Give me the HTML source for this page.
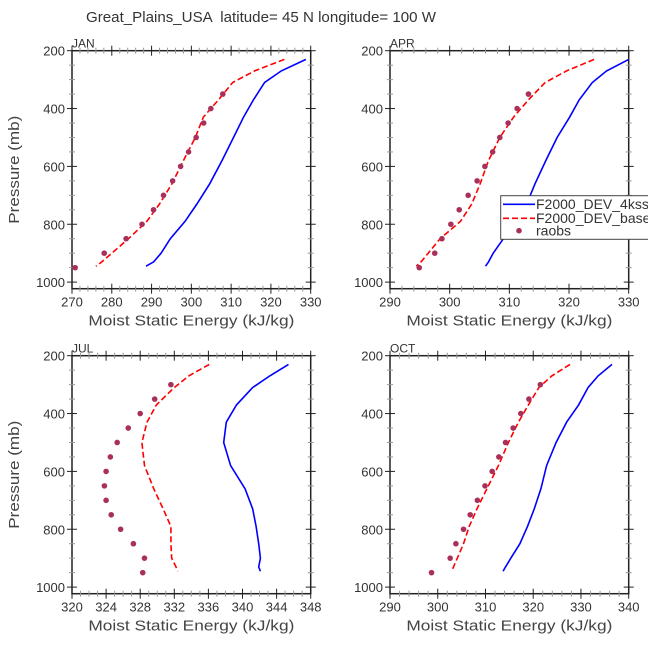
<!DOCTYPE html>
<html><head><meta charset="utf-8">
<style>
html,body{margin:0;padding:0;background:#fff;overflow:hidden;}
svg{display:block;font-family:"Liberation Sans",sans-serif;}
</style></head>
<body>
<svg id="fig" width="648" height="648" viewBox="0 0 648 648">
<text x="261" y="22" text-anchor="middle" font-size="15" fill="#333" style="white-space:pre" textLength="350" lengthAdjust="spacingAndGlyphs">Great_Plains_USA  latitude= 45 N longitude= 100 W</text>
</svg>
<script>
const levels = [230,270,310,370,430,500,580,660,730,790,850,900,930,945];
const janBlue = [328.8,322.6,318.4,315.6,313.1,310.6,307.7,304.6,301.4,298.4,294.7,292.4,290.5,288.6];
const janRed  = [323.4,315.9,310.4,306.8,303.0,301.0,298.0,295.1,292.0,288.8,284.2,280.0,277.5,276.0];
const janObsP = [350,400,450,500,550,600,650,700,750,800,850,900,950];
const janObs  = [307.9,304.9,303.1,301.2,299.3,297.3,295.3,293.0,290.5,287.6,283.6,278.1,270.8];
const aprBlue = [330.0,326.3,323.9,321.7,320.1,318.0,316.1,314.3,312.9,311.2,309.0,307.3,306.5,306.0];
const aprRed  = [324.2,319.6,316.0,313.2,310.7,308.4,306.5,305.1,303.7,301.8,298.4,296.4,295.2,294.4];
const aprObsP = [350,400,450,500,550,600,650,700,750,800,850,900,950];
const aprObs  = [313.2,311.3,309.8,308.4,307.2,305.9,304.6,303.1,301.6,300.2,298.7,297.5,294.9];
const julBlue = [345.4,343.2,341.2,339.3,338.1,337.8,338.6,340.3,341.2,341.6,341.9,342.1,341.9,342.1];
const julRed  = [336.1,333.7,332.0,329.9,328.8,328.2,328.5,329.6,330.7,331.6,331.6,331.7,332.2,332.4];
const julObsP = [300,350,400,450,500,550,600,650,700,750,800,850,900,950];
const julObs  = [331.6,329.7,328.0,326.6,325.3,324.5,324.0,323.8,324.0,324.6,325.7,327.2,328.5,328.3];
const octBlue = [336.5,333.6,331.5,329.5,327.0,324.8,322.8,321.6,320.2,318.8,317.2,315.3,314.2,313.7];
const octRed  = [327.7,323.9,321.2,319.0,316.9,314.8,312.7,310.3,308.2,306.6,305.4,304.1,303.3,302.9];
const octObsP = [300,350,400,450,500,550,600,650,700,750,800,850,900,950];
const octObs  = [321.5,319.1,317.4,315.8,314.2,312.8,311.4,309.9,308.3,306.8,305.4,303.8,302.6,298.7];
const xTicksJan = [270,280,290,300,310,320,330];
const xTicksApr = [290,300,310,320,330];
const xTicksJul = [320,324,328,332,336,340,344,348];
const xTicksOct = [290,300,310,320,330,340];
const yTicks = [200,400,600,800,1000];

const NS = "http://www.w3.org/2000/svg";
const svg = document.getElementById('fig');
function mk(tag, attrs, parent){
  const e = document.createElementNS(NS, tag);
  for (const k in attrs) e.setAttribute(k, attrs[k]);
  (parent||svg).appendChild(e);
  return e;
}
function panel(o){
  const g = mk('g', {});
  
  
  const L=o.left, R=o.left+238.7, T=o.top, B=o.top+238;
  const sx = v => L + (v-o.xmin)/(o.xmax-o.xmin)*(R-L);
  const sy = p => T + (p-200)/800*231.4;
  const box = mk('rect', {x:L,y:T,width:R-L,height:B-T,fill:'none',stroke:'#222','stroke-width':1.5}, g);
  
  
  for (let p=200; p<=1000; p+=50){
    const maj = p%200===0; const len = maj?5:3; const y = sy(p);
    mk('line',{x1:L-len,x2:L+len,y1:y,y2:y,stroke:maj?'#222':'#999','stroke-width':1},g);
    mk('line',{x1:R-len,x2:R+len,y1:y,y2:y,stroke:maj?'#222':'#999','stroke-width':1},g);
  }
  yTicks.forEach(p=>{
    const t = mk('text',{x:L-7,y:sy(p)+5,'text-anchor':'end','font-size':13,fill:'#333'},g);
    t.textContent = p;
    
    
  });
  const ticks = o.xticks; const step = ticks[1]-ticks[0]; const mstep = step/5 > 1 ? step/5 : step/4;
  for (let v=o.xmin; v<=o.xmax+1e-6; v+=mstep){
    const maj = Math.abs((v-o.xmin)/step - Math.round((v-o.xmin)/step))<1e-6;
    const len = maj?5:3; const x = sx(v);
    mk('line',{x1:x,x2:x,y1:B-len,y2:B+len,stroke:maj?'#222':'#999','stroke-width':1},g);
    mk('line',{x1:x,x2:x,y1:T-len,y2:T+len,stroke:maj?'#222':'#999','stroke-width':1},g);
  }
  ticks.forEach(v=>{
    const t = mk('text',{x:sx(v),y:B+18,'text-anchor':'middle','font-size':13,fill:'#333'},g);
    t.textContent = v;
    
    
  });
  const xl = mk('text',{x:(L+R)/2,y:B+37,'text-anchor':'middle','font-size':14.5,fill:'#444',textLength:206,lengthAdjust:'spacingAndGlyphs'},g);
  xl.textContent = 'Moist Static Energy (kJ/kg)';
  
  
  const ttl = mk('text',{x:L,y:T-3,'font-size':12,fill:'#333'},g);
  ttl.textContent = o.name.toUpperCase();
  
  
  if (o.ylabel){
    const yl = mk('text',{x:0,y:0,'text-anchor':'middle','font-size':15,fill:'#444',textLength:108,lengthAdjust:'spacingAndGlyphs',transform:`translate(19,${(T+B)/2}) rotate(-90)`},g);
    yl.textContent = 'Pressure (mb)';
    
    
  }
  const pts = arr => arr.map((v,i)=>sx(v).toFixed(1)+','+sy(levels[i]).toFixed(1)).join(' ');
  const bl = mk('polyline',{points:pts(o.blue),fill:'none',stroke:'#0000ff','stroke-width':1.6},g);
  
  
  const rl = mk('polyline',{points:pts(o.red),fill:'none',stroke:'#ff0000','stroke-width':1.6,'stroke-dasharray':'6,3'},g);
  
  
  o.obs.forEach((v,i)=>{
    const c = mk('circle',{cx:sx(v),cy:sy(o.obsP[i]),r:2.8,fill:'#a8305a'},g);
    
    
  });
}
panel({name:'jan',left:72,top:50.7,xmin:270,xmax:330,xticks:xTicksJan,blue:janBlue,red:janRed,obs:janObs,obsP:janObsP,ylabel:true});
panel({name:'apr',left:390,top:50.7,xmin:290,xmax:330,xticks:xTicksApr,blue:aprBlue,red:aprRed,obs:aprObs,obsP:aprObsP,ylabel:false});
panel({name:'jul',left:72,top:355.7,xmin:320,xmax:348,xticks:xTicksJul,blue:julBlue,red:julRed,obs:julObs,obsP:julObsP,ylabel:true});
panel({name:'oct',left:390,top:355.7,xmin:290,xmax:340,xticks:xTicksOct,blue:octBlue,red:octRed,obs:octObs,obsP:octObsP,ylabel:false});

const lg = mk('g',{});


mk('rect',{x:500.7,y:195.7,width:160,height:43.6,fill:'#fff',stroke:'#444','stroke-width':1},lg);
mk('line',{x1:503,x2:535,y1:204.3,y2:204.3,stroke:'#0000ff','stroke-width':1.6},lg);
mk('line',{x1:503,x2:535,y1:218.3,y2:218.3,stroke:'#ff0000','stroke-width':1.6,'stroke-dasharray':'6,3'},lg);
mk('circle',{cx:519,cy:230.7,r:2.8,fill:'#a8305a'},lg);
const lt = [['F2000_DEV_4kss',209,'legend-entry-4kss'],['F2000_DEV_base',223,'legend-entry-base'],['raobs',235.5,'legend-entry-raobs']];
lt.forEach(a=>{
  const t = mk('text',{x:536,y:a[1],'font-size':14,fill:'#333'},lg);
  t.textContent = a[0];
  
  
});
</script>
</body></html>
